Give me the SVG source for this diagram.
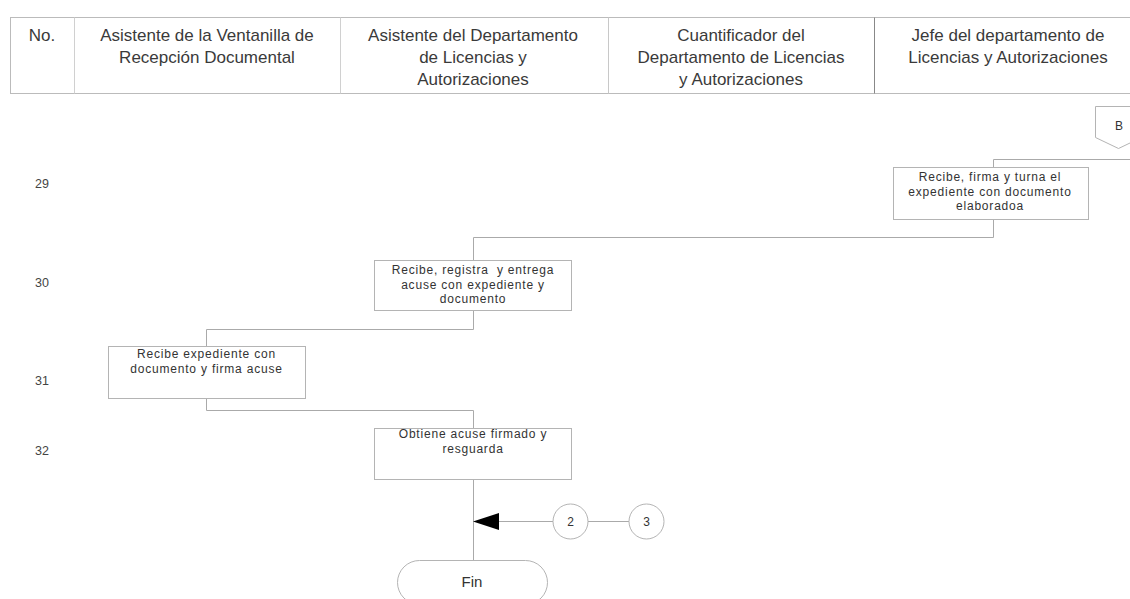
<svg xmlns="http://www.w3.org/2000/svg" width="1130" height="599" viewBox="0 0 1130 599">
<style>
.hdr{font-family:"Liberation Sans",Arial,sans-serif;font-size:17px;fill:#3a3a3a;text-anchor:middle}
.num{font-family:"Liberation Sans",Arial,sans-serif;font-size:12.5px;fill:#444}
.task{font-family:"Liberation Sans",Arial,sans-serif;font-size:12px;letter-spacing:0.8px;fill:#333;text-anchor:middle}
.box{fill:#fff;stroke:#b4b4b4;stroke-width:1}
.conn{fill:none;stroke:#aaa;stroke-width:1}
.small{font-family:"Liberation Sans",Arial,sans-serif;font-size:12px;fill:#333;text-anchor:middle}
</style>
<rect width="1130" height="599" fill="#fff"/>
<g id="header">
<rect x="10.5" y="17.5" width="1140" height="76" fill="#fff" stroke="#bbb"/>
<line x1="74.5" y1="17.5" x2="74.5" y2="93.5" stroke="#d0d0d0"/>
<line x1="340.5" y1="17.5" x2="340.5" y2="93.5" stroke="#d0d0d0"/>
<line x1="608.5" y1="17.5" x2="608.5" y2="93.5" stroke="#c8c8c8"/>
<line x1="874.5" y1="17.5" x2="874.5" y2="93.5" stroke="#888"/>
<text class="hdr" x="42" y="41">No.</text>
<text class="hdr" x="207" y="41">Asistente de la Ventanilla de</text>
<text class="hdr" x="207" y="63">Recepción Documental</text>
<text class="hdr" x="473" y="41">Asistente del Departamento</text>
<text class="hdr" x="473" y="63">de Licencias y</text>
<text class="hdr" x="473" y="85">Autorizaciones</text>
<text class="hdr" x="741" y="41">Cuantificador del</text>
<text class="hdr" x="741" y="63">Departamento de Licencias</text>
<text class="hdr" x="741" y="85">y Autorizaciones</text>
<text class="hdr" x="1008" y="41">Jefe del departamento de</text>
<text class="hdr" x="1008" y="63">Licencias y Autorizaciones</text>
</g>
<g id="rownums">
<text class="num" x="35" y="188">29</text>
<text class="num" x="35" y="287">30</text>
<text class="num" x="35" y="385">31</text>
<text class="num" x="35" y="455">32</text>
</g>
<g id="connectors">
<path class="conn" d="M1130 159.5 H993.5 V167"/>
<path class="conn" d="M993.5 220 V237.5 H473.5 V260"/>
<path class="conn" d="M473.5 311 V329.5 H206.5 V346"/>
<path class="conn" d="M206.5 399 V410.5 H473.5 V428"/>
<path class="conn" d="M473.5 480 V560"/>
<path class="conn" d="M499 521.5 H553"/>
<path class="conn" d="M588 521.5 H629"/>
<polygon points="473,521.5 499,513 499,530" fill="#000"/>
</g>
<g id="offpage-B">
<polygon class="box" points="1095.5,106.5 1141.5,106.5 1141.5,137.5 1118.5,148.5 1095.5,137.5"/>
<text class="small" x="1119" y="130">B</text>
</g>
<g id="task29">
<rect class="box" x="893.5" y="167.5" width="195" height="52"/>
<text class="task" x="990" y="181">Recibe, firma y turna el</text>
<text class="task" x="990" y="195.5">expediente con documento</text>
<text class="task" x="990" y="210">elaboradoa</text>
</g>
<g id="task30">
<rect class="box" x="374.5" y="260.5" width="197" height="50"/>
<text class="task" x="473" y="274" xml:space="preserve">Recibe, registra  y entrega</text>
<text class="task" x="473" y="288.5">acuse con expediente y</text>
<text class="task" x="473" y="303">documento</text>
</g>
<g id="task31">
<rect class="box" x="108.5" y="346.5" width="197" height="52"/>
<text class="task" x="206.5" y="358">Recibe expediente con</text>
<text class="task" x="206.5" y="373">documento y firma acuse</text>
</g>
<g id="task32">
<rect class="box" x="374.5" y="428.5" width="197" height="51"/>
<text class="task" x="473" y="438">Obtiene acuse firmado y</text>
<text class="task" x="473" y="453">resguarda</text>
</g>
<g id="conn2">
<circle class="box" cx="570.5" cy="521.5" r="17.5"/>
<text class="small" x="570.5" y="526">2</text>
</g>
<g id="conn3">
<circle class="box" cx="646.5" cy="521.5" r="17.5"/>
<text class="small" x="646.5" y="526">3</text>
</g>
<g id="fin">
<rect class="box" x="397.5" y="560.5" width="150" height="44" rx="22" ry="22"/>
<text class="small" style="font-size:15px" x="472" y="587">Fin</text>
</g>
</svg>
